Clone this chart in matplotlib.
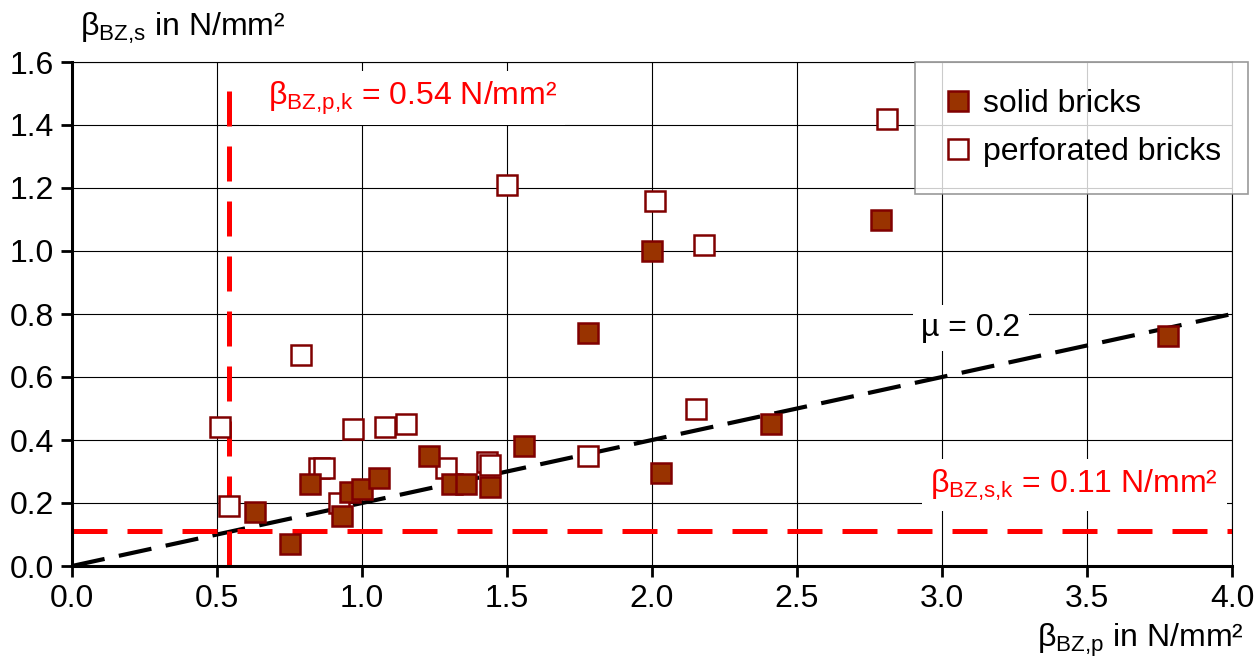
import matplotlib.pyplot as plt
import numpy as np

plt.rcParams['font.family'] = ['Liberation Sans', 'DejaVu Sans']
plt.rcParams['mathtext.fontset'] = 'custom'
plt.rcParams['mathtext.rm'] = 'Liberation Sans'
plt.rcParams['mathtext.it'] = 'Liberation Sans'

# solid bricks
solid_x = [0.63, 0.75, 0.82, 0.93, 0.96, 1.00, 1.06, 1.23, 1.31, 1.36, 1.44,
           1.56, 1.78, 2.00, 2.03, 2.41, 2.79, 3.78]
solid_y = [0.17, 0.07, 0.26, 0.16, 0.235, 0.245, 0.28, 0.35, 0.26, 0.26, 0.25,
           0.38, 0.74, 1.00, 0.295, 0.45, 1.10, 0.73]

# perforated bricks
perf_x = [0.51, 0.54, 0.79, 0.85, 0.87, 0.92, 0.97, 1.08, 1.15, 1.29, 1.43,
          1.44, 1.50, 1.78, 2.01, 2.15, 2.18, 2.81]
perf_y = [0.44, 0.19, 0.67, 0.31, 0.31, 0.20, 0.435, 0.44, 0.45, 0.31, 0.33,
          0.32, 1.21, 0.35, 1.16, 0.50, 1.02, 1.42]

mu = 0.2
p_k = 0.54
s_k = 0.11

FS = 23

fig = plt.figure(figsize=(12.6, 6.62), dpi=100)
ax = fig.add_axes([72/1260, 1-566/662, 1160/1260, 504/662])

ax.set_xlim(0, 4.0)
ax.set_ylim(0, 1.6)
ax.set_xticks(np.arange(0, 4.01, 0.5))
ax.set_yticks(np.arange(0, 1.61, 0.2))
ax.set_xticklabels([f'{v:.1f}' for v in np.arange(0, 4.01, 0.5)])
ax.set_yticklabels([f'{v:.1f}' for v in np.arange(0, 1.61, 0.2)])
ax.grid(True, color='black', linewidth=0.8)
ax.set_axisbelow(True)
ax.tick_params(labelsize=FS, length=8, width=2, direction='out', pad=5)
for s in ['left', 'bottom']:
    ax.spines[s].set_linewidth(2.2)
for s in ['top', 'right']:
    ax.spines[s].set_linewidth(0.8)

# reference lines
xx = np.array([0, 4.0])
ax.plot(xx, mu * xx, color='black', lw=3.0, dashes=(8, 3.5), zorder=2)
ax.plot([0, 4.0], [s_k, s_k], color='#ff0000', lw=3.6, dashes=(7, 4), zorder=2)
ax.plot([p_k, p_k], [0, 1.55], color='#ff0000', lw=3.6, dashes=(7, 4), zorder=2)

ax.plot(solid_x, solid_y, 's', ms=14.5, mfc='#993300', mec='#800000', mew=1.8,
        ls='none', label='solid bricks', zorder=4)
ax.plot(perf_x, perf_y, 's', ms=14.5, mfc='white', mec='#800000', mew=1.8,
        ls='none', label='perforated bricks', zorder=3)

box = dict(facecolor='white', edgecolor='none', pad=6)
ax.text(0.675, 1.485, r'β$_{\mathrm{BZ{,}p{,}k}}$ = 0.54 N/mm²', color='#ff0000',
        fontsize=FS, va='center', ha='left', bbox=box, zorder=5)
ax.text(3.1, 0.755, 'µ = 0.2', color='black', fontsize=FS, va='center',
        ha='center', bbox=box, zorder=5)
ax.text(2.96, 0.257, r'β$_{\mathrm{BZ{,}s{,}k}}$ = 0.11 N/mm²', color='#ff0000',
        fontsize=FS, va='center', ha='left', bbox=box, zorder=5)

leg = ax.legend(loc='upper right', bbox_to_anchor=(1.0142, 1.0), fontsize=FS,
                frameon=True, fancybox=False, handletextpad=0.3,
                handlelength=1.0, markerscale=1.0, borderpad=0.85,
                labelspacing=0.55, borderaxespad=0.0)
leg.get_frame().set_edgecolor('#808080')
leg.get_frame().set_linewidth(1.2)
leg.set_zorder(6)

fig.text(80/1260, 1-28/662, r'β$_{\mathrm{BZ{,}s}}$ in N/mm²', fontsize=FS,
         va='center', ha='left')
fig.text(1244/1260, 1-640/662, r'β$_{\mathrm{BZ{,}p}}$ in N/mm²', fontsize=FS,
         va='center', ha='right')

fig.savefig('out.png', dpi=100)
